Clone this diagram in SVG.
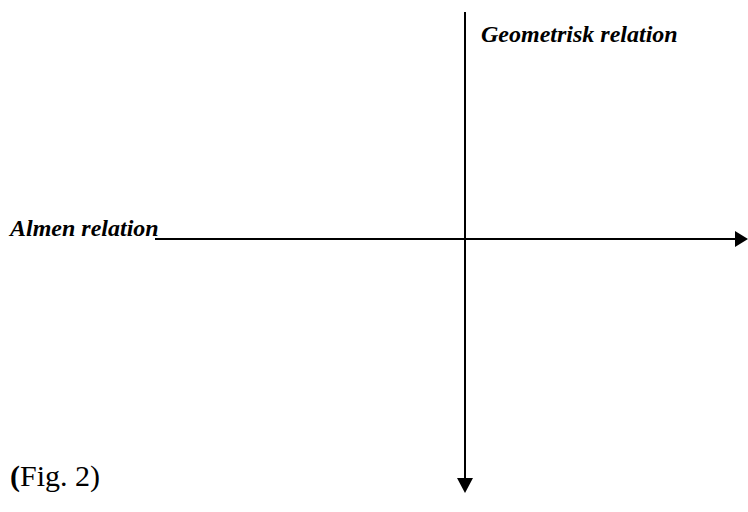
<svg xmlns="http://www.w3.org/2000/svg" width="748" height="512" viewBox="0 0 748 512">
<style>
.lbl{font-family:"Liberation Serif","Times New Roman",serif;font-weight:bold;font-style:italic;font-size:24px;fill:#000}
.cap{font-family:"Liberation Serif","Times New Roman",serif;font-size:30px;fill:#000}
.ax{stroke:#000;stroke-width:2;fill:none}
</style>
<rect width="748" height="512" fill="#fff"/>
<g id="connectors">
<line class="ax" x1="155" y1="239" x2="736" y2="239"/>
<polygon points="735,231 748,239 735,247" fill="#000"/>
<line class="ax" x1="465" y1="12" x2="465" y2="480"/>
<polygon points="457,478 473,478 465,493" fill="#000"/>
</g>
<g id="label-geometrisk"><text class="lbl" x="481" y="42">Geometrisk relation</text></g>
<g id="label-almen"><text class="lbl" x="10" y="236">Almen relation</text></g>
<g id="caption"><text class="cap" x="10" y="486"><tspan font-weight="bold">(</tspan>Fig. 2)</text></g>
</svg>
